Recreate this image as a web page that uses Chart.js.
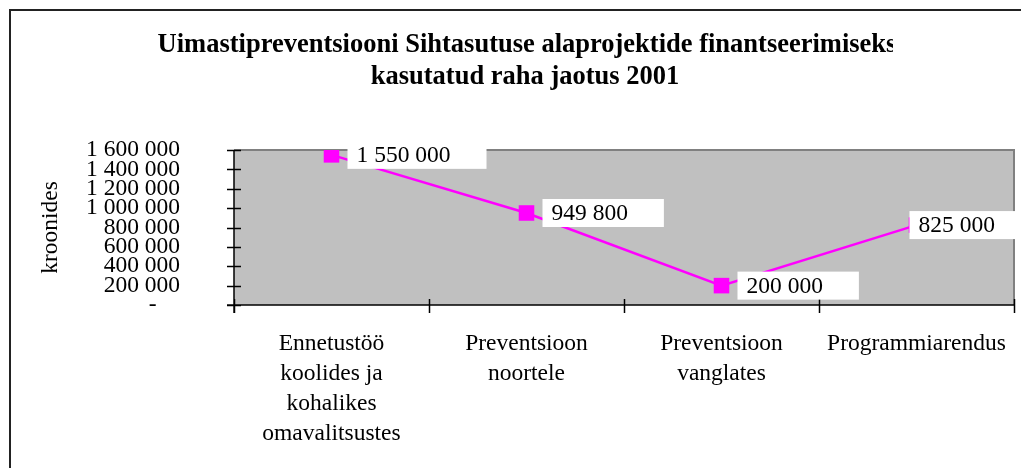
<!DOCTYPE html>
<html>
<head>
<meta charset="utf-8">
<script src="https://cdn.jsdelivr.net/npm/chart.js@4/dist/chart.umd.min.js"></script>
<style>
  html, body { margin: 0; padding: 0; background: #fff; overflow: hidden; }
  canvas { display: block; }
</style>
</head>
<body>
<canvas id="chart" width="1021" height="468"></canvas>
<script>
// chart data
const titleLines = ["Uimastipreventsiooni Sihtasutuse alaprojektide finantseerimiseks", "kasutatud raha jaotus 2001"];
const categories = [
  ["Ennetustöö", "koolides ja", "kohalikes", "omavalitsustes"],
  ["Preventsioon", "noortele"],
  ["Preventsioon", "vanglates"],
  ["Programmiarendus"]
];
const amounts = [1550000, 949800, 200000, 825000];
const yAxisTitle = "kroonides";
const yMin = 0;
const yMax = 1600000;
const yStep = 200000;

const SERIF = "'Liberation Serif', 'Times New Roman', serif";

// 1 600 000 style grouping
const fmt = (v) => String(Math.round(v)).replace(/\B(?=(\d{3})+(?!\d))/g, " ");

// frame, title, plot background and crossing tick marks
const decorPlugin = {
  id: "decor",
  beforeDraw(chart) {
    const ctx = chart.ctx;
    ctx.save();
    ctx.strokeStyle = "#222";
    ctx.lineWidth = 2;
    ctx.strokeRect(10, 10, chart.width + 20, chart.height + 20);

    // title, clipped on the right like the original
    ctx.beginPath();
    ctx.rect(0, 0, 893, 120);
    ctx.clip();
    ctx.fillStyle = "#000";
    ctx.font = "bold 26.5px " + SERIF;
    ctx.textAlign = "center";
    ctx.textBaseline = "middle";
    ctx.fillText(titleLines[0], 527, 45);
    ctx.fillText(titleLines[1], 525, 77);
    ctx.restore();
  },
  beforeDatasetsDraw(chart) {
    const { ctx, chartArea: a } = chart;
    ctx.save();
    ctx.fillStyle = "#C0C0C0";
    ctx.fillRect(a.left, a.top, a.right - a.left, a.bottom - a.top);
    ctx.strokeStyle = "#808080";
    ctx.lineWidth = 2;
    ctx.beginPath();
    ctx.moveTo(a.left, a.top);
    ctx.lineTo(a.right, a.top);
    ctx.lineTo(a.right, a.bottom);
    ctx.stroke();

    // axes drawn here too, so the ticks cross them
    const x = chart.scales.x, y = chart.scales.y;
    ctx.strokeStyle = "#000";
    ctx.lineWidth = 1.5;
    ctx.beginPath();
    ctx.moveTo(a.left, a.top);
    ctx.lineTo(a.left, a.bottom + 8);
    ctx.moveTo(a.left - 7, a.bottom);
    ctx.lineTo(a.right, a.bottom);
    for (let v = yMin; v <= yMax; v += yStep) {
      const py = Math.round(y.getPixelForValue(v)) + 0.5;
      ctx.moveTo(a.left - 7, py);
      ctx.lineTo(a.left + 7, py);
    }
    const half = (x.getPixelForValue(1) - x.getPixelForValue(0)) / 2;
    for (let i = 0; i <= categories.length; i++) {
      const px = i < categories.length ? x.getPixelForValue(i) - half : a.right;
      ctx.moveTo(Math.round(px) + 0.5, a.bottom - 6);
      ctx.lineTo(Math.round(px) + 0.5, a.bottom + 8);
    }
    ctx.stroke();
    ctx.restore();
  },
  afterDatasetsDraw(chart) {
    // white value boxes to the right of each point
    const ctx = chart.ctx;
    const meta = chart.getDatasetMeta(0);
    ctx.save();
    ctx.font = "23.5px " + SERIF;
    ctx.textBaseline = "middle";
    meta.data.forEach((pt, i) => {
      const text = fmt(amounts[i]);
      const w = ctx.measureText(text).width + 45;
      let left = pt.x + 16;
      if (left + w > chart.width) left = pt.x - 7;
      ctx.fillStyle = "#fff";
      ctx.fillRect(left, pt.y - 14, w, 28);
      ctx.fillStyle = "#000";
      ctx.fillText(text, left + 9, pt.y + 1);
    });
    ctx.restore();
  }
};

new Chart(document.getElementById("chart"), {
  type: "line",
  data: {
    labels: categories,
    datasets: [{
      data: amounts,
      borderColor: "#FF00FF",
      backgroundColor: "#FF00FF",
      borderWidth: 2.5,
      pointStyle: "rect",
      pointRadius: 11,
      pointBorderWidth: 0,
      tension: 0
    }]
  },
  options: {
    responsive: false,
    animation: false,
    layout: { autoPadding: false, padding: { top: 150, right: 7, left: 0, bottom: 0 } },
    plugins: {
      legend: { display: false },
      title: { display: false },
      tooltip: { enabled: false }
    },
    scales: {
      x: {
        type: "category",
        offset: true,
        grid: { display: false, drawTicks: false },
        border: { display: false },
        ticks: {
          color: "#000",
          font: { family: SERIF, size: 23.5, lineHeight: 1.28 },
          padding: 24,
          maxRotation: 0,
          autoSkip: false
        },
        afterFit: (s) => { s.height = 163; s.paddingLeft = 0; s.paddingRight = 0; }
      },
      y: {
        min: yMin,
        max: yMax,
        grid: { display: false, drawTicks: false },
        border: { display: false },
        ticks: {
          stepSize: yStep,
          autoSkip: false,
          color: "#000",
          font: { family: SERIF, size: 23.5, lineHeight: 1 },
          padding: 54,
          callback: (v) => (v === 0 ? "-    " : fmt(v))
        },
        title: {
          display: true,
          text: yAxisTitle,
          color: "#000",
          font: { family: SERIF, size: 23.5 },
          padding: { top: 37, bottom: 0 }
        },
        afterFit: (s) => { s.width = 234; s.paddingTop = 0; s.paddingBottom = 0; }
      }
    }
  },
  plugins: [decorPlugin]
});
</script>
</body>
</html>
